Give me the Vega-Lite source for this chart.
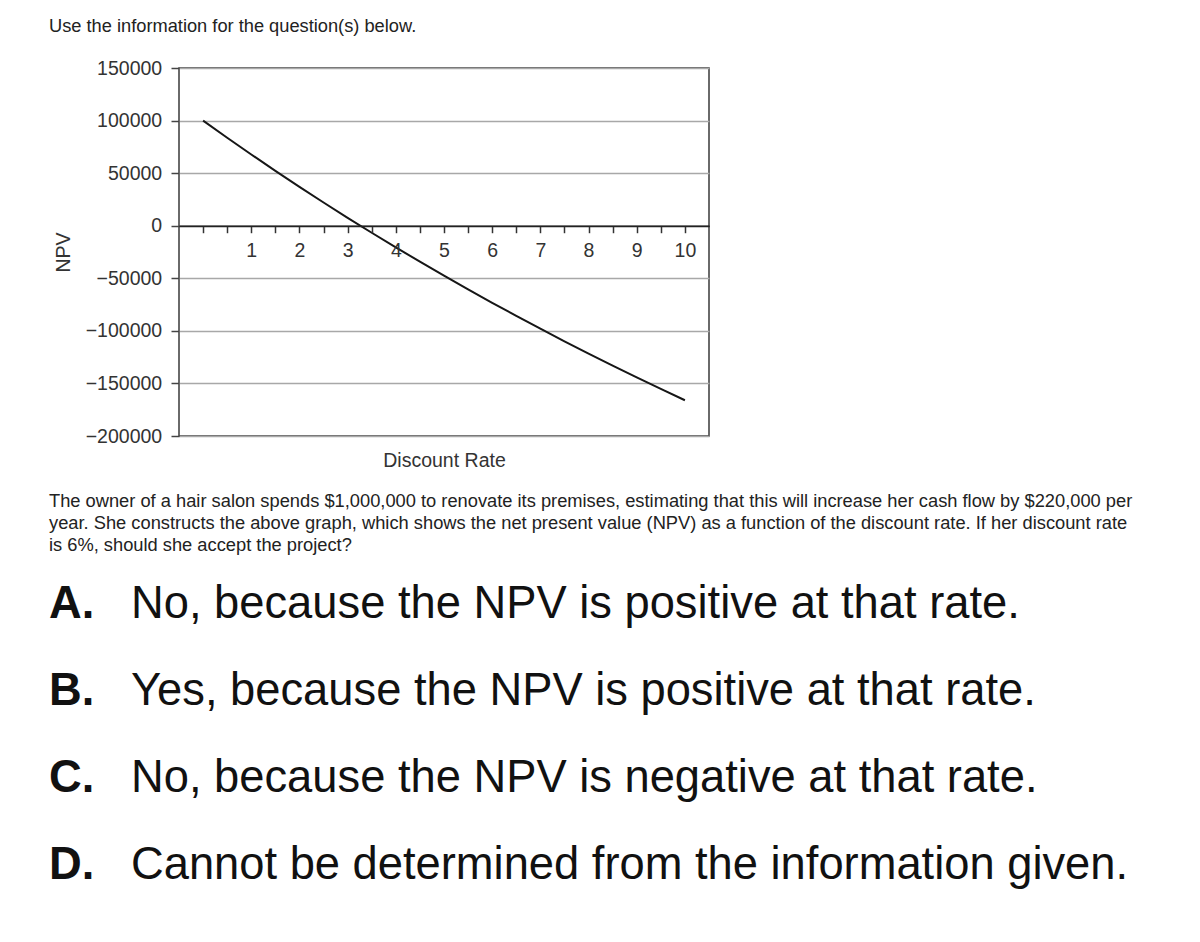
{
  "$schema": "https://vega.github.io/schema/vega-lite/v6.json",
  "background": "white",
  "padding": {"left": 49, "top": 17, "right": 0, "bottom": 0},
  "config": {"font": "Liberation Sans"},
  "title": {
    "text": "Use the information for the question(s) below.",
    "anchor": "start",
    "frame": "bounds",
    "fontSize": 18.25,
    "fontWeight": "normal",
    "font": "Liberation Sans",
    "color": "#222222",
    "offset": 21
  },
  "spacing": 20,
  "vconcat": [
    {
      "width": 530,
      "height": 368,
      "view": {"stroke": "#3a3a3a", "strokeWidth": 1.5},
      "data": {
        "values": [
          {"rate": 0, "npv": 100000},
          {"rate": 0.5, "npv": 83691},
          {"rate": 1, "npv": 67755},
          {"rate": 1.5, "npv": 52182},
          {"rate": 2, "npv": 36961},
          {"rate": 2.5, "npv": 22082},
          {"rate": 3, "npv": 7536},
          {"rate": 3.5, "npv": -6689},
          {"rate": 4, "npv": -20599},
          {"rate": 4.5, "npv": -34205},
          {"rate": 5, "npv": -47515},
          {"rate": 5.5, "npv": -60538},
          {"rate": 6, "npv": -73280},
          {"rate": 6.5, "npv": -85751},
          {"rate": 7, "npv": -97957},
          {"rate": 7.5, "npv": -109905},
          {"rate": 8, "npv": -121604},
          {"rate": 8.5, "npv": -133059},
          {"rate": 9, "npv": -144277},
          {"rate": 9.5, "npv": -155264},
          {"rate": 10, "npv": -166027}
        ]
      },
      "mark": {"type": "line", "color": "#161616", "strokeWidth": 2},
      "encoding": {
        "x": {
          "field": "rate",
          "type": "quantitative",
          "scale": {"domain": [-0.5, 10.5], "nice": false, "zero": false},
          "axis": {
            "title": "Discount Rate",
            "orient": "bottom",
            "offset": -210.286,
            "values": [0, 0.5, 1, 1.5, 2, 2.5, 3, 3.5, 4, 4.5, 5, 5.5, 6, 6.5, 7, 7.5, 8, 8.5, 9, 9.5, 10],
            "labelExpr": "datum.value >= 1 && datum.value % 1 === 0 ? '' + datum.value : ''",
            "labelOverlap": false,
            "labelFlush": false,
            "labelBound": false,
            "grid": false,
            "domainColor": "#222222",
            "domainWidth": 1.5,
            "tickColor": "#333333",
            "tickWidth": 1.5,
            "tickSize": 7,
            "labelPadding": 9,
            "labelFontSize": 19.5,
            "labelColor": "#333333",
            "labelFont": "Liberation Sans",
            "titleFont": "Liberation Sans",
            "titleFontSize": 19.5,
            "titleFontWeight": "normal",
            "titleColor": "#333333",
            "titleY": 225.6,
            "titleBaseline": "top",
            "zindex": 1
          }
        },
        "y": {
          "field": "npv",
          "type": "quantitative",
          "scale": {"domain": [-200000, 150000], "nice": false},
          "axis": {
            "title": "NPV",
            "values": [-200000, -150000, -100000, -50000, 0, 50000, 100000, 150000],
            "format": "d",
            "grid": true,
            "gridColor": {"condition": {"test": "datum.value === 0", "value": "#222222"}, "value": "#a8a8a8"},
            "gridWidth": 1.5,
            "domain": false,
            "tickSize": 8,
            "tickColor": "#444444",
            "tickWidth": 1.5,
            "labelPadding": 9.3,
            "labelFontSize": 19.5,
            "labelColor": "#333333",
            "labelFont": "Liberation Sans",
            "labelFlush": false,
            "labelOverlap": false,
            "titleFont": "Liberation Sans",
            "titleFontSize": 19.5,
            "titleFontWeight": "normal",
            "titleColor": "#333333",
            "titlePadding": 12
          }
        }
      }
    },
    {
      "spacing": 3,
      "vconcat": [
        {
          "width": 1000,
          "height": 66,
          "view": {"stroke": null},
          "data": {
            "values": [
              {"line": 1, "text": "The owner of a hair salon spends $1,000,000 to renovate its premises, estimating that this will increase her cash flow by $220,000 per"},
              {"line": 2, "text": "year. She constructs the above graph, which shows the net present value (NPV) as a function of the discount rate. If her discount rate"},
              {"line": 3, "text": "is 6%, should she accept the project?"}
            ]
          },
          "mark": {"type": "text", "align": "left", "baseline": "middle", "font": "Liberation Sans", "fontSize": 18.3, "color": "#222222"},
          "encoding": {
            "y": {"field": "line", "type": "ordinal", "axis": null},
            "x": {"value": -130},
            "text": {"field": "text"}
          }
        },
        {
          "width": 1000,
          "height": 349,
          "view": {"stroke": null},
          "data": {
            "values": [
              {"letter": "A.", "answer": "No, because the NPV is positive at that rate."},
              {"letter": "B.", "answer": "Yes, because the NPV is positive at that rate."},
              {"letter": "C.", "answer": "No, because the NPV is negative at that rate."},
              {"letter": "D.", "answer": "Cannot be determined from the information given."}
            ]
          },
          "encoding": {
            "y": {"field": "letter", "type": "ordinal", "axis": null}
          },
          "layer": [
            {
              "mark": {"type": "text", "align": "left", "baseline": "middle", "font": "Liberation Sans", "fontSize": 45.3, "fontWeight": "bold", "color": "#111111"},
              "encoding": {"x": {"value": -130}, "text": {"field": "letter"}}
            },
            {
              "mark": {"type": "text", "align": "left", "baseline": "middle", "font": "Liberation Sans", "fontSize": 45.3, "color": "#111111"},
              "encoding": {"x": {"value": -48}, "text": {"field": "answer"}}
            }
          ]
        }
      ]
    }
  ]
}
